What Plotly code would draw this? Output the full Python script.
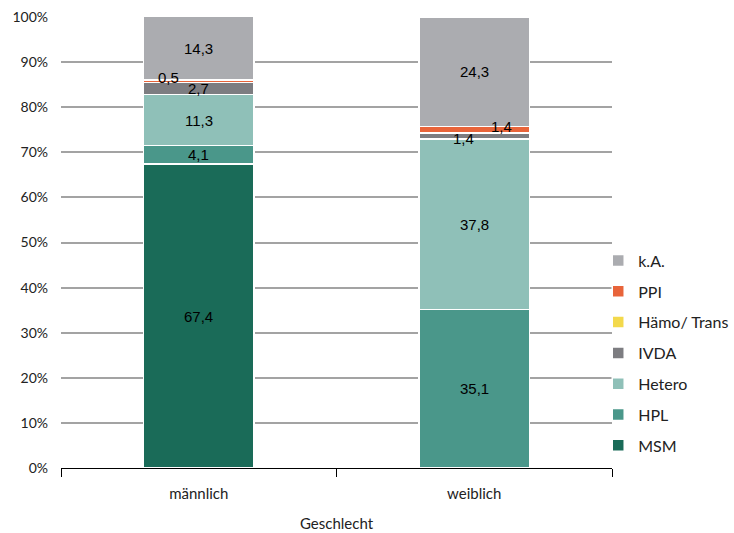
import plotly.graph_objects as go

# Transmission route shares (%) by sex
categories = ["männlich", "weiblich"]
series_names = ["MSM", "HPL", "Hetero", "IVDA", "Hämo/ Trans", "PPI", "k.A."]
msm = [67.4, 0.0]
hpl = [4.1, 35.1]
hetero = [11.3, 37.8]
ivda = [2.7, 1.4]
haemo = [0.0, 0.0]
ppi = [0.5, 1.4]
ka = [14.3, 24.3]
series_values = [msm, hpl, hetero, ivda, haemo, ppi, ka]
y_tick_values = [0, 10, 20, 30, 40, 50, 60, 70, 80, 90, 100]
y_tick_labels = [f"{v}%" for v in y_tick_values]

colors = ["#1a6b58", "#4a978a", "#8fc0b8", "#7d7d81", "#f3d94c", "#e8643a", "#abacb0"]

# label offsets (px) for the thin segments, keyed by (series, category index)
label_shift = {
    ("PPI", 0): (-30, 4),
    ("IVDA", 1): (-11, -2),
    ("PPI", 1): (27, 3),
}

fig = go.Figure()
n = len(series_names)
for i, (name, vals, col) in enumerate(zip(series_names, series_values, colors)):
    fig.add_trace(go.Bar(
        x=categories, y=vals, name=name, legendgroup=name,
        legendrank=1000 - i,  # top of the stack first in the legend
        marker=dict(color=col, line=dict(color="white", width=1.5)),
        width=0.4,
    ))

# value labels at segment midpoints (clipped to the 100% top)
for ci, cat in enumerate(categories):
    base = 0.0
    for name, vals in zip(series_names, series_values):
        v = vals[ci]
        if v > 0:
            dx, dy = label_shift.get((name, ci), (0, 0))
            top = min(base + v, 100.0)
            fig.add_annotation(
                x=cat, y=(base + top) / 2,
                text=f"{v:.1f}".replace(".", ","),
                showarrow=False, xshift=dx, yshift=dy,
                font=dict(family="Liberation Sans, Arial, sans-serif", size=15, color="black"),
            )
        base += v

axis_font = dict(family="Lato, sans-serif", size=14, color="#222222")
x_font = dict(family="Lato, sans-serif", size=15, color="#222222")

fig.update_layout(
    barmode="stack",
    width=734, height=533,
    margin=dict(l=61, r=122, t=17, b=65, autoexpand=False),
    paper_bgcolor="white", plot_bgcolor="white",
    showlegend=True,
    legend=dict(
        traceorder="grouped",
        x=0.975, xanchor="left", y=0.012, yanchor="bottom",
        font=dict(family="Lato, sans-serif", size=16, color="#222222"),
        itemwidth=30, tracegroupgap=7,
        bgcolor="rgba(0,0,0,0)",
    ),
    xaxis=dict(
        showgrid=False, showline=True, linecolor="black", linewidth=1,
        ticks="outside", tickson="boundaries", ticklen=8, tickcolor="black",
        tickfont=x_font, ticklabelstandoff=12,
        title=dict(text="Geschlecht", font=x_font, standoff=17),
    ),
    yaxis=dict(
        range=[0, 100], tickvals=y_tick_values, ticktext=y_tick_labels,
        showgrid=True, gridcolor="#a3a3a3", gridwidth=1.5,
        zeroline=False, showline=False, ticks="", tickfont=axis_font,
        ticklabelstandoff=12,
    ),
)

fig.write_html("out.html")
